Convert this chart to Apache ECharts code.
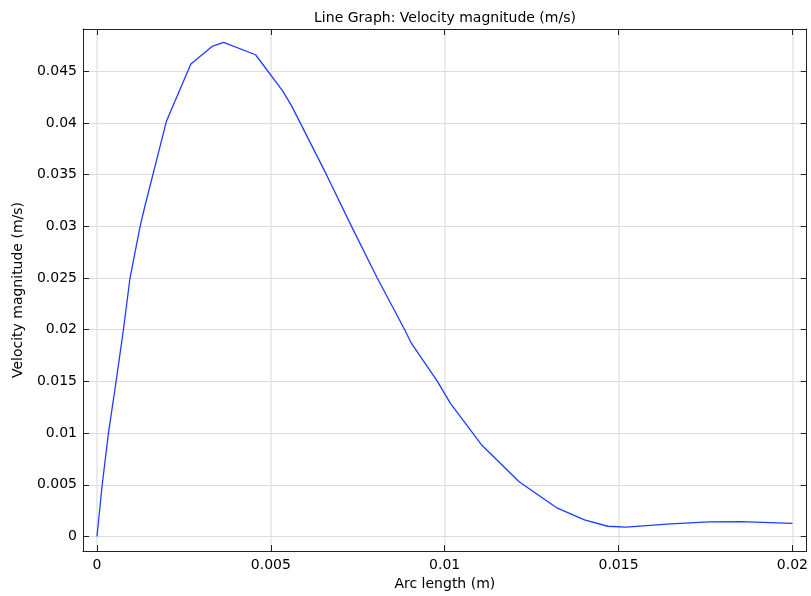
<!DOCTYPE html>
<html>
<head>
<meta charset="utf-8">
<script src="https://cdn.jsdelivr.net/npm/echarts@6/dist/echarts.min.js"></script>
<style>html,body{margin:0;padding:0;background:#fff}#c{width:811px;height:596px}</style>
</head>
<body>
<div id="c"></div>
<script>
const arcLength = [0, 0.00015, 0.00033, 0.00055, 0.00076, 0.00095, 0.00124, 0.00136, 0.0020, 0.0027, 0.00331, 0.00364, 0.00456, 0.00534, 0.00559, 0.0066, 0.00732, 0.00806, 0.00885, 0.00904, 0.00979, 0.01016, 0.01105, 0.01214, 0.01321, 0.01402, 0.01469, 0.01522, 0.0165, 0.0176, 0.0185, 0.0200];
const velocity  = [0, 0.005, 0.010, 0.015, 0.020, 0.025, 0.030, 0.0317, 0.0402, 0.0457, 0.0474, 0.0478, 0.0466, 0.0431, 0.0417, 0.035, 0.030, 0.025, 0.020, 0.0187, 0.015, 0.0129, 0.0089, 0.0053, 0.0028, 0.0016, 0.00099, 0.0009, 0.00122, 0.00142, 0.00143, 0.00127];
const xTicks = [0, 0.005, 0.01, 0.015, 0.02];
const yTicks = [0, 0.005, 0.01, 0.015, 0.02, 0.025, 0.03, 0.035, 0.04, 0.045];
const titleText = 'Line Graph: Velocity magnitude (m/s)';
const xName = 'Arc length (m)';
const yName = 'Velocity magnitude (m/s)';

const FONT = 'DejaVu Sans';
const FS = 14;
const fmt = v => String(+(+v).toFixed(4));
const frame = {show: true, onZero: false, lineStyle: {color: '#222', width: 1}};

const chart = echarts.init(document.getElementById('c'), null, {renderer: 'canvas'});
chart.setOption({
  animation: false,
  backgroundColor: '#fff',
  title: {
    text: titleText, left: 440, top: 6, textAlign: 'center',
    textStyle: {fontFamily: FONT, fontSize: FS, fontWeight: 'normal', color: '#000'}
  },
  grid: {left: 83, right: 4, top: 29, bottom: 42, containLabel: false},
  xAxis: [{
    type: 'value', min: -0.000402, max: 0.020411, position: 'bottom',
    axisLine: frame,
    axisTick: {show: true, inside: true, length: 6, customValues: xTicks, lineStyle: {color: '#222'}},
    axisLabel: {customValues: xTicks, formatter: fmt, margin: 7, fontFamily: FONT, fontSize: FS, color: '#000'},
    splitLine: {show: true, customValues: xTicks, lineStyle: {color: '#e4e4e4', width: 1.5}},
    name: xName, nameLocation: 'middle', nameGap: 20,
    nameTextStyle: {fontFamily: FONT, fontSize: FS, color: '#000'}
  }, {
    type: 'value', min: -0.000402, max: 0.020411, position: 'top',
    axisLine: frame,
    axisTick: {show: true, inside: true, length: 6, customValues: xTicks, lineStyle: {color: '#222'}},
    axisLabel: {show: false}, splitLine: {show: false}
  }],
  yAxis: [{
    type: 'value', min: -0.001414, max: 0.04909, position: 'left',
    axisLine: frame,
    axisTick: {show: true, inside: true, length: 6, customValues: yTicks, lineStyle: {color: '#222'}},
    axisLabel: {customValues: yTicks, formatter: fmt, margin: 6, fontFamily: FONT, fontSize: FS, color: '#000'},
    splitLine: {show: true, customValues: yTicks, lineStyle: {color: '#dcdcdc', width: 1}},
    name: yName, nameLocation: 'middle', nameGap: 58,
    nameTextStyle: {fontFamily: FONT, fontSize: FS, color: '#000'}
  }, {
    type: 'value', min: -0.001414, max: 0.04909, position: 'right',
    axisLine: frame,
    axisTick: {show: true, inside: true, length: 6, customValues: yTicks, lineStyle: {color: '#222'}},
    axisLabel: {show: false}, splitLine: {show: false}
  }],
  series: [{
    type: 'line',
    xAxisIndex: 0, yAxisIndex: 0,
    data: arcLength.map((x, i) => [x, velocity[i]]),
    showSymbol: false, symbol: 'none',
    lineStyle: {color: '#1f3dff', width: 1.3},
    clip: true
  }]
});
</script>
</body>
</html>
